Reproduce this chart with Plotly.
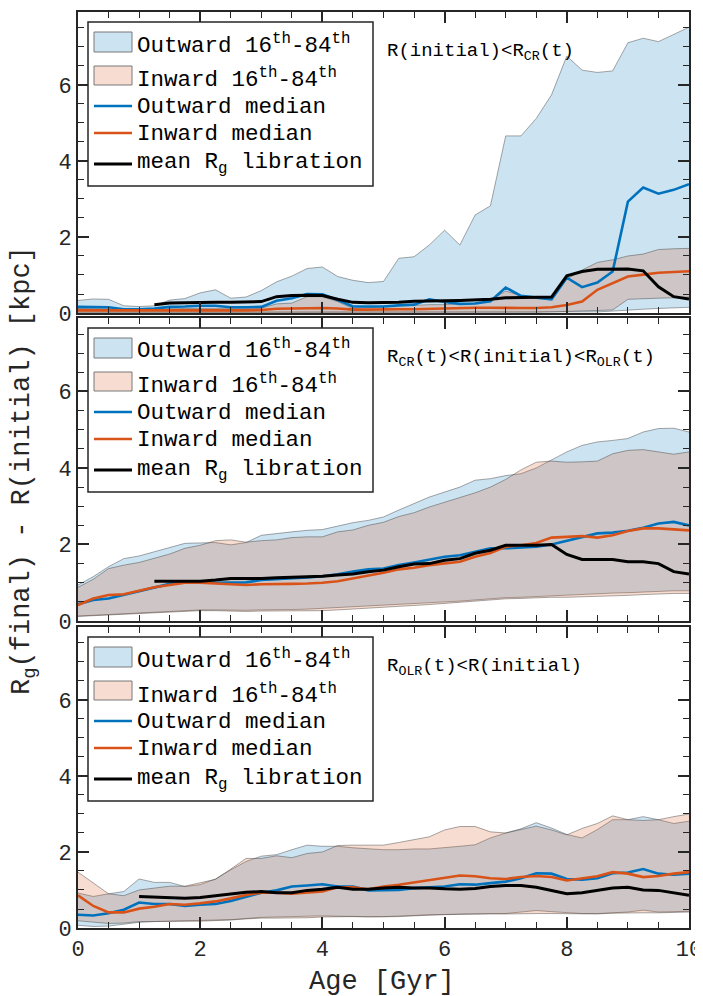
import plotly.graph_objects as go

AGE = [0, 0.25, 0.5, 0.75, 1, 1.25, 1.5, 1.75, 2, 2.25, 2.5, 2.75, 3, 3.25, 3.5, 3.75,
       4, 4.25, 4.5, 4.75, 5, 5.25, 5.5, 5.75, 6, 6.25, 6.5, 6.75, 7, 7.25, 7.5, 7.75,
       8, 8.25, 8.5, 8.75, 9, 9.25, 9.5, 9.75, 10]

# ---------- panel 1 : R(initial) < R_CR(t)
TOP_OUT_HI = [0.33, 0.37, 0.36, 0.19, 0.17, 0.19, 0.34, 0.38, 0.53, 0.61, 0.39, 0.42, 0.59, 0.82, 0.97, 1.17,
              1.21, 0.96, 0.86, 0.80, 0.83, 1.44, 1.48, 1.79, 2.18, 1.79, 2.58, 2.82, 4.66, 4.66, 5.12, 5.74,
              6.76, 6.39, 6.33, 6.37, 7.11, 7.23, 7.14, 7.33, 7.52]
TOP_OUT_LO = [0.03, 0.03, 0.03, 0.02, 0.02, 0.02, 0.02, 0.02, 0.02, 0.02, 0.02, 0.02, 0.02, 0.02, 0.02, 0.02,
              0.02, 0.02, 0.02, 0.02, 0.02, 0.02, 0.02, 0.02, 0.02, 0.02, 0.02, 0.02, 0.02, 0.02, 0.02, 0.02,
              0.02, 0.02, 0.03, 0.05, 0.08, 0.10, 0.12, 0.13, 0.15]
TOP_IN_HI = [0.12, 0.12, 0.11, 0.10, 0.10, 0.10, 0.11, 0.12, 0.12, 0.12, 0.12, 0.12, 0.13, 0.24, 0.26, 0.43,
             0.43, 0.30, 0.12, 0.14, 0.18, 0.20, 0.20, 0.22, 0.22, 0.24, 0.26, 0.33, 0.58, 0.45, 0.42, 0.42,
             0.89, 1.13, 1.33, 1.40, 1.50, 1.55, 1.67, 1.69, 1.70]
TOP_IN_LO = [0.01, 0.01, 0.01, 0.01, 0.01, 0.01, 0.01, 0.01, 0.01, 0.01, 0.01, 0.01, 0.01, 0.01, 0.01, 0.01,
             0.01, 0.01, 0.01, 0.01, 0.01, 0.01, 0.01, 0.01, 0.01, 0.01, 0.01, 0.01, 0.01, 0.01, 0.02, 0.03,
             0.04, 0.05, 0.06, 0.08, 0.36, 0.38, 0.39, 0.40, 0.42]
TOP_OUT_MED = [0.16, 0.16, 0.15, 0.10, 0.10, 0.12, 0.16, 0.17, 0.19, 0.19, 0.15, 0.15, 0.16, 0.32, 0.39, 0.50,
               0.49, 0.34, 0.17, 0.17, 0.17, 0.20, 0.22, 0.36, 0.29, 0.24, 0.25, 0.31, 0.67, 0.45, 0.40, 0.36,
               0.93, 0.68, 0.80, 1.09, 2.93, 3.30, 3.14, 3.24, 3.39]
TOP_IN_MED = [0.07, 0.07, 0.07, 0.06, 0.06, 0.06, 0.07, 0.07, 0.07, 0.07, 0.07, 0.07, 0.08, 0.11, 0.12, 0.13,
              0.13, 0.12, 0.09, 0.09, 0.10, 0.10, 0.10, 0.11, 0.13, 0.13, 0.14, 0.14, 0.13, 0.13, 0.13, 0.15,
              0.21, 0.30, 0.61, 0.79, 0.96, 1.01, 1.06, 1.08, 1.10]
TOP_MEAN = [None, None, None, None, None, 0.22, 0.26, 0.27, 0.28, 0.28, 0.28, 0.29, 0.30, 0.43, 0.46, 0.47,
            0.46, 0.36, 0.28, 0.27, 0.27, 0.28, 0.31, 0.31, 0.32, 0.33, 0.34, 0.36, 0.40, 0.41, 0.42, 0.42,
            0.98, 1.09, 1.15, 1.16, 1.16, 1.11, 0.69, 0.43, 0.37]

# ---------- panel 2 : R_CR(t) < R(initial) < R_OLR(t)
MID_OUT_HI = [0.94, 1.16, 1.42, 1.63, 1.70, 1.81, 1.94, 2.03, 2.04, 2.05, 1.99, 2.05, 2.24, 2.29, 2.33, 2.37,
              2.39, 2.48, 2.57, 2.63, 2.72, 2.90, 3.07, 3.24, 3.37, 3.50, 3.68, 3.72, 3.80, 3.85, 4.00, 4.20,
              4.42, 4.59, 4.68, 4.72, 4.77, 4.94, 5.03, 5.04, 4.94]
MID_OUT_LO = [0.13, 0.15, 0.17, 0.18, 0.20, 0.22, 0.24, 0.26, 0.29, 0.29, 0.28, 0.28, 0.29, 0.29, 0.30, 0.31,
              0.33, 0.35, 0.37, 0.40, 0.42, 0.44, 0.45, 0.47, 0.50, 0.52, 0.55, 0.58, 0.61, 0.62, 0.64, 0.66,
              0.68, 0.70, 0.71, 0.73, 0.74, 0.76, 0.78, 0.79, 0.79]
MID_IN_HI = [0.88, 1.09, 1.37, 1.46, 1.53, 1.63, 1.75, 1.90, 1.98, 2.10, 2.12, 2.06, 2.10, 2.12, 2.18, 2.20,
             2.20, 2.33, 2.38, 2.50, 2.58, 2.73, 2.83, 2.98, 3.10, 3.22, 3.35, 3.50, 3.70, 3.95, 4.15, 4.18,
             4.15, 4.16, 4.18, 4.37, 4.46, 4.48, 4.42, 4.36, 4.42]
MID_IN_LO = [0.12, 0.14, 0.16, 0.17, 0.19, 0.21, 0.23, 0.25, 0.27, 0.27, 0.26, 0.25, 0.26, 0.26, 0.26, 0.26,
             0.27, 0.29, 0.31, 0.34, 0.36, 0.38, 0.40, 0.43, 0.46, 0.49, 0.52, 0.55, 0.58, 0.59, 0.61, 0.62,
             0.62, 0.63, 0.64, 0.66, 0.67, 0.69, 0.71, 0.72, 0.72]
MID_OUT_MED = [0.44, 0.55, 0.59, 0.68, 0.77, 0.88, 0.97, 1.04, 1.03, 1.00, 1.00, 1.01, 1.07, 1.09, 1.11, 1.14,
               1.17, 1.22, 1.29, 1.35, 1.37, 1.46, 1.53, 1.61, 1.68, 1.72, 1.81, 1.90, 1.90, 1.92, 1.94, 2.00,
               2.10, 2.18, 2.29, 2.31, 2.36, 2.44, 2.55, 2.59, 2.50]
MID_IN_MED = [0.42, 0.59, 0.68, 0.70, 0.79, 0.88, 0.94, 1.00, 1.00, 0.98, 0.97, 0.94, 0.96, 0.96, 0.97, 0.98,
              1.00, 1.04, 1.11, 1.20, 1.26, 1.35, 1.39, 1.46, 1.50, 1.55, 1.68, 1.78, 1.94, 1.98, 2.04, 2.18,
              2.20, 2.22, 2.18, 2.24, 2.35, 2.42, 2.42, 2.39, 2.37]
MID_MEAN = [None, None, None, None, None, 1.04, 1.04, 1.04, 1.04, 1.07, 1.11, 1.11, 1.11, 1.13, 1.14, 1.16,
            1.17, 1.20, 1.23, 1.29, 1.33, 1.42, 1.49, 1.50, 1.59, 1.63, 1.77, 1.85, 1.98, 1.98, 1.98, 2.00,
            1.74, 1.61, 1.61, 1.61, 1.55, 1.55, 1.50, 1.29, 1.23]

# ---------- panel 3 : R_OLR(t) < R(initial)
BOT_OUT_HI = [0.92, 0.83, 0.90, 0.96, 1.29, 1.20, 1.20, 1.09, 1.14, 1.29, 1.53, 1.75, 1.89, 1.93, 2.06, 2.18,
              2.15, 2.15, 2.11, 2.08, 2.06, 2.06, 2.08, 2.08, 2.11, 2.15, 2.19, 2.37, 2.50, 2.61, 2.77, 2.63,
              2.46, 2.37, 2.59, 2.85, 2.85, 2.93, 2.85, 2.75, 2.81]
BOT_OUT_LO = [0.07, 0.04, 0.05, 0.10, 0.15, 0.17, 0.18, 0.18, 0.19, 0.20, 0.22, 0.25, 0.28, 0.29, 0.30, 0.31,
              0.32, 0.31, 0.30, 0.30, 0.30, 0.31, 0.33, 0.35, 0.36, 0.37, 0.38, 0.38, 0.38, 0.42, 0.46, 0.43,
              0.40, 0.38, 0.38, 0.40, 0.42, 0.47, 0.42, 0.43, 0.44]
BOT_IN_HI = [1.47, 1.18, 0.90, 0.85, 1.00, 1.05, 1.10, 1.10, 1.19, 1.28, 1.55, 1.83, 1.83, 1.90, 1.85, 1.96,
             2.00, 2.17, 2.18, 2.18, 2.18, 2.25, 2.33, 2.40, 2.58, 2.67, 2.67, 2.53, 2.50, 2.58, 2.68, 2.58,
             2.45, 2.62, 2.75, 2.95, 2.85, 2.83, 2.85, 2.93, 3.00]
BOT_IN_LO = [0.19, 0.15, 0.12, 0.13, 0.17, 0.17, 0.18, 0.18, 0.18, 0.19, 0.21, 0.24, 0.26, 0.26, 0.26, 0.27,
             0.29, 0.30, 0.30, 0.29, 0.29, 0.30, 0.32, 0.34, 0.35, 0.36, 0.37, 0.37, 0.37, 0.38, 0.38, 0.38,
             0.38, 0.37, 0.37, 0.39, 0.40, 0.40, 0.40, 0.41, 0.42]
BOT_OUT_MED = [0.35, 0.33, 0.39, 0.48, 0.67, 0.63, 0.63, 0.58, 0.61, 0.63, 0.71, 0.83, 0.93, 0.99, 1.09, 1.12,
               1.15, 1.09, 1.09, 0.99, 0.99, 1.00, 1.05, 1.07, 1.09, 1.15, 1.14, 1.18, 1.22, 1.31, 1.44, 1.43,
               1.29, 1.27, 1.31, 1.44, 1.46, 1.55, 1.43, 1.40, 1.43]
BOT_IN_MED = [0.86, 0.58, 0.41, 0.41, 0.51, 0.56, 0.63, 0.61, 0.65, 0.70, 0.78, 0.87, 0.93, 0.93, 0.90, 0.93,
              0.96, 1.07, 1.07, 1.02, 1.09, 1.14, 1.20, 1.27, 1.33, 1.38, 1.36, 1.31, 1.29, 1.34, 1.37, 1.34,
              1.25, 1.31, 1.36, 1.47, 1.43, 1.34, 1.37, 1.43, 1.47]
BOT_MEAN = [None, None, None, None, 0.83, 0.81, 0.80, 0.78, 0.80, 0.85, 0.90, 0.94, 0.96, 0.93, 0.93, 0.99,
            1.02, 1.07, 1.02, 1.02, 1.05, 1.07, 1.05, 1.05, 1.03, 1.02, 1.04, 1.09, 1.12, 1.12, 1.07, 0.99,
            0.90, 0.93, 0.99, 1.05, 1.07, 1.00, 0.99, 0.93, 0.86]

PANEL_LABELS = ["R(initial)<R<sub>CR</sub>(t)",
                "R<sub>CR</sub>(t)<R(initial)<R<sub>OLR</sub>(t)",
                "R<sub>OLR</sub>(t)<R(initial)"]
LEGEND_TEXT = ["Outward 16<sup>th</sup>-84<sup>th</sup>",
               "Inward 16<sup>th</sup>-84<sup>th</sup>",
               "Outward median", "Inward median",
               "mean R<sub>g</sub> libration"]
X_TICKS = [0, 2, 4, 6, 8, 10]
Y_TICKS = [0, 2, 4, 6]

PANELS = [
    (TOP_OUT_LO, TOP_OUT_HI, TOP_IN_LO, TOP_IN_HI, TOP_OUT_MED, TOP_IN_MED, TOP_MEAN),
    (MID_OUT_LO, MID_OUT_HI, MID_IN_LO, MID_IN_HI, MID_OUT_MED, MID_IN_MED, MID_MEAN),
    (BOT_OUT_LO, BOT_OUT_HI, BOT_IN_LO, BOT_IN_HI, BOT_OUT_MED, BOT_IN_MED, BOT_MEAN),
]

# ---------- styles
FONT = "Liberation Mono, Courier New, monospace"
AX = "#262626"
BLUE = "rgb(0,114,189)"
ORANGE = "rgb(217,83,25)"
BLUE_FILL = "rgba(0,114,189,0.2)"
ORANGE_FILL = "rgba(217,83,25,0.2)"
EDGE = "rgba(60,60,60,0.75)"

# The page body adds an 8 px margin, so figure coordinates = page coordinates - 8.
OFF = 8
W, H = 703 - OFF, 996 - OFF
PLOT_L, PLOT_R, PLOT_T, PLOT_B = 78 - OFF, 689 - OFF, 12 - OFF, 928 - OFF
ML, MR, MT, MB = PLOT_L, W - PLOT_R, PLOT_T, H - PLOT_B
PW = PLOT_R - PLOT_L
PH_TOTAL = PLOT_B - PLOT_T
# panel extents (top, bottom) in page pixels
PANEL_PX = [(12, 313), (318, 621), (627, 928)]


def ydom(top, bot):
    return [(PLOT_B - (bot - OFF)) / PH_TOTAL, (PLOT_B - (top - OFF)) / PH_TOTAL]


fig = go.Figure()
for i, (olo, ohi, ilo, ihi, omed, imed, mean) in enumerate(PANELS):
    xa = "x" if i == 0 else f"x{i+1}"
    ya = "y" if i == 0 else f"y{i+1}"
    common = dict(x=AGE, xaxis=xa, yaxis=ya, mode="lines", showlegend=False, hoverinfo="skip")
    fig.add_trace(go.Scatter(y=olo, line=dict(color=EDGE, width=0.6), **common))
    fig.add_trace(go.Scatter(y=ohi, fill="tonexty", fillcolor=BLUE_FILL,
                             line=dict(color=EDGE, width=0.6), **common))
    fig.add_trace(go.Scatter(y=ilo, line=dict(color=EDGE, width=0.6), **common))
    fig.add_trace(go.Scatter(y=ihi, fill="tonexty", fillcolor=ORANGE_FILL,
                             line=dict(color=EDGE, width=0.6), **common))
    fig.add_trace(go.Scatter(y=omed, line=dict(color=BLUE, width=2.6), **common))
    fig.add_trace(go.Scatter(y=imed, line=dict(color=ORANGE, width=2.6), **common))
    fig.add_trace(go.Scatter(y=mean, line=dict(color="black", width=3), connectgaps=False, **common))

axis_common = dict(
    showline=True, linecolor=AX, linewidth=2, mirror="ticks",
    ticks="inside", ticklen=11, tickwidth=1.6, tickcolor=AX,
    showgrid=False, zeroline=False, automargin=False,
    tickfont=dict(family=FONT, size=22, color=AX),
    minor=dict(ticks="inside", ticklen=6, tickwidth=1.4, tickcolor=AX, dtick=0.5, showgrid=False),
)

layout = dict(
    width=W, height=H, autosize=False,
    margin=dict(l=ML, r=MR, t=MT, b=MB, pad=0, autoexpand=False),
    paper_bgcolor="white", plot_bgcolor="white",
    font=dict(family=FONT, color="black"),
    showlegend=False,
)
for i in range(3):
    sx = "" if i == 0 else str(i + 1)
    top, bot = PANEL_PX[i]
    layout[f"xaxis{sx}"] = dict(axis_common, domain=[0, 1], range=[0, 10],
                                tickvals=X_TICKS, ticktext=[str(v) for v in X_TICKS],
                                showticklabels=(i == 2), anchor=f"y{sx}")
    layout[f"yaxis{sx}"] = dict(axis_common, domain=ydom(top, bot), range=[0, 7.92],
                                tickvals=Y_TICKS, ticktext=[str(v) for v in Y_TICKS],
                                anchor=f"x{sx}")
fig.update_layout(**layout)

# ---------- per-panel legend boxes and labels (decoration)
shapes = []
annotations = []


def dx(px):
    return (px - 78) / PW


for i in range(3):
    sx = "" if i == 0 else str(i + 1)
    top, bot = PANEL_PX[i]
    ph = bot - top
    xr, yr = f"x{sx} domain", f"y{sx} domain"

    def dy(off):
        return 1 - off / ph

    shapes.append(dict(type="rect", xref=xr, yref=yr, x0=dx(88), x1=dx(373), y0=dy(10), y1=dy(174),
                       line=dict(color=AX, width=1.5), fillcolor="white", layer="above"))
    shapes.append(dict(type="rect", xref=xr, yref=yr, x0=dx(94), x1=dx(132), y0=dy(20), y1=dy(40),
                       line=dict(color="rgb(120,120,120)", width=1), fillcolor="rgb(204,227,242)", layer="above"))
    shapes.append(dict(type="rect", xref=xr, yref=yr, x0=dx(94), x1=dx(132), y0=dy(54), y1=dy(73),
                       line=dict(color="rgb(120,120,120)", width=1), fillcolor="rgb(247,221,209)", layer="above"))
    for off, col, wd in [(94, BLUE, 2.6), (121, ORANGE, 2.6), (152, "black", 3)]:
        shapes.append(dict(type="line", xref=xr, yref=yr, x0=dx(94), x1=dx(132), y0=dy(off), y1=dy(off),
                           line=dict(color=col, width=wd), layer="above"))
    for txt, off in zip(LEGEND_TEXT, [32, 67, 95, 122, 152]):
        annotations.append(dict(text=txt, xref=xr, yref=yr, x=dx(135), y=dy(off),
                                xanchor="left", yanchor="middle", showarrow=False,
                                font=dict(family=FONT, size=22.5, color="black")))
    annotations.append(dict(text=PANEL_LABELS[i], xref=xr, yref=yr, x=dx(385), y=dy(40),
                            xanchor="left", yanchor="middle", showarrow=False,
                            font=dict(family=FONT, size=19, color="black")))

annotations.append(dict(text="Age [Gyr]", xref="paper", yref="paper",
                        x=(381.5 - 78) / PW, y=(928 - 982) / PH_TOTAL,
                        xanchor="center", yanchor="middle", showarrow=False,
                        font=dict(family=FONT, size=27, color=AX)))
annotations.append(dict(text="R<sub>g</sub>(final) - R(initial) [kpc]", xref="paper", yref="paper",
                        x=(24 - 78) / PW, y=(928 - 471) / PH_TOTAL, textangle=-90,
                        xanchor="center", yanchor="middle", showarrow=False,
                        font=dict(family=FONT, size=27, color=AX)))

fig.update_layout(shapes=shapes, annotations=annotations)
fig.write_html("out.html")
